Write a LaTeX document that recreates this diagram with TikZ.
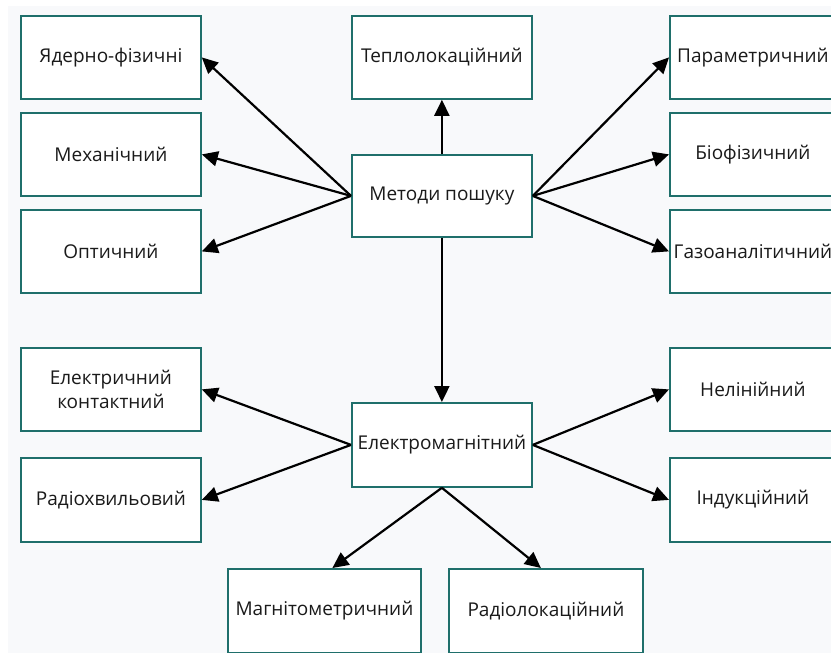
\documentclass[tikz,border=0pt]{standalone}
\usepackage{fontspec}
\setmainfont{Open Sans}
\usetikzlibrary{arrows.meta}
\definecolor{bord}{HTML}{1F6F6B}
\definecolor{bgc}{HTML}{F8F9FB}
\definecolor{txt}{HTML}{1A1A1A}
\begin{document}
\begin{tikzpicture}[x=1pt,y=-1pt,
  box/.style={draw=bord, line width=1.8pt, fill=white, minimum width=180pt, minimum height=83pt,
    inner sep=0pt, font=\fontsize{19}{24}\selectfont, text=txt, align=center, anchor=north west},
  arr/.style={-{Triangle[length=16pt,width=15pt]}, line width=2.2pt, black}]
\useasboundingbox (0,0) rectangle (831,653);
\clip (0,0) rectangle (831,653);
\fill[bgc] (8,6) rectangle (831,653);
% top group
\node[box] (nuc) at (20,15) {Ядерно-фізичні};
\node[box] (mech) at (20,112) {Механічний};
\node[box] (opt) at (20,209) {Оптичний};
\node[box] (tep) at (351,15) {Теплолокаційний};
\node[box, minimum height=82pt] (met) at (351,154) {Методи пошуку};
\node[box, minimum width=166pt] (par) at (669,15) {Параметричний};
\node[box, minimum width=166pt] (bio) at (669,112) {Біофізичний};
\node[box, minimum width=166pt] (gas) at (669,209) {Газоаналітичний};
% bottom group
\node[box] (elk) at (20,347) {Електричний\\контактний};
\node[box, minimum height=84pt] (rad) at (20,457) {Радіохвильовий};
\node[box, minimum height=84pt] (em) at (351,402) {Електромагнітний};
\node[box, minimum width=166pt] (nel) at (669,347) {Нелінійний};
\node[box, minimum width=166pt, minimum height=84pt] (ind) at (669,457) {Індукційний};
\node[box, minimum width=193pt, minimum height=84pt] (mag) at (227,568) {Магнітометричний};
\node[box, minimum width=194pt, minimum height=84pt] (rl) at (448,568) {Радіолокаційний};
% arrows
\draw[arr] (met.west) -- (nuc.east);
\draw[arr] (met.west) -- (mech.east);
\draw[arr] (met.west) -- (opt.east);
\draw[arr] (met.north) -- (tep.south);
\draw[arr] (met.east) -- (par.west);
\draw[arr] (met.east) -- (bio.west);
\draw[arr] (met.east) -- (gas.west);
\draw[arr] (met.south) -- (em.north);
\draw[arr] (em.west) -- (elk.east);
\draw[arr] (em.west) -- (rad.east);
\draw[arr] (em.east) -- (nel.west);
\draw[arr] (em.east) -- (ind.west);
\draw[arr] (em.south) -- ([xshift=8pt]mag.north);
\draw[arr] (em.south) -- ([xshift=-5pt]rl.north);
\end{tikzpicture}
\end{document}
